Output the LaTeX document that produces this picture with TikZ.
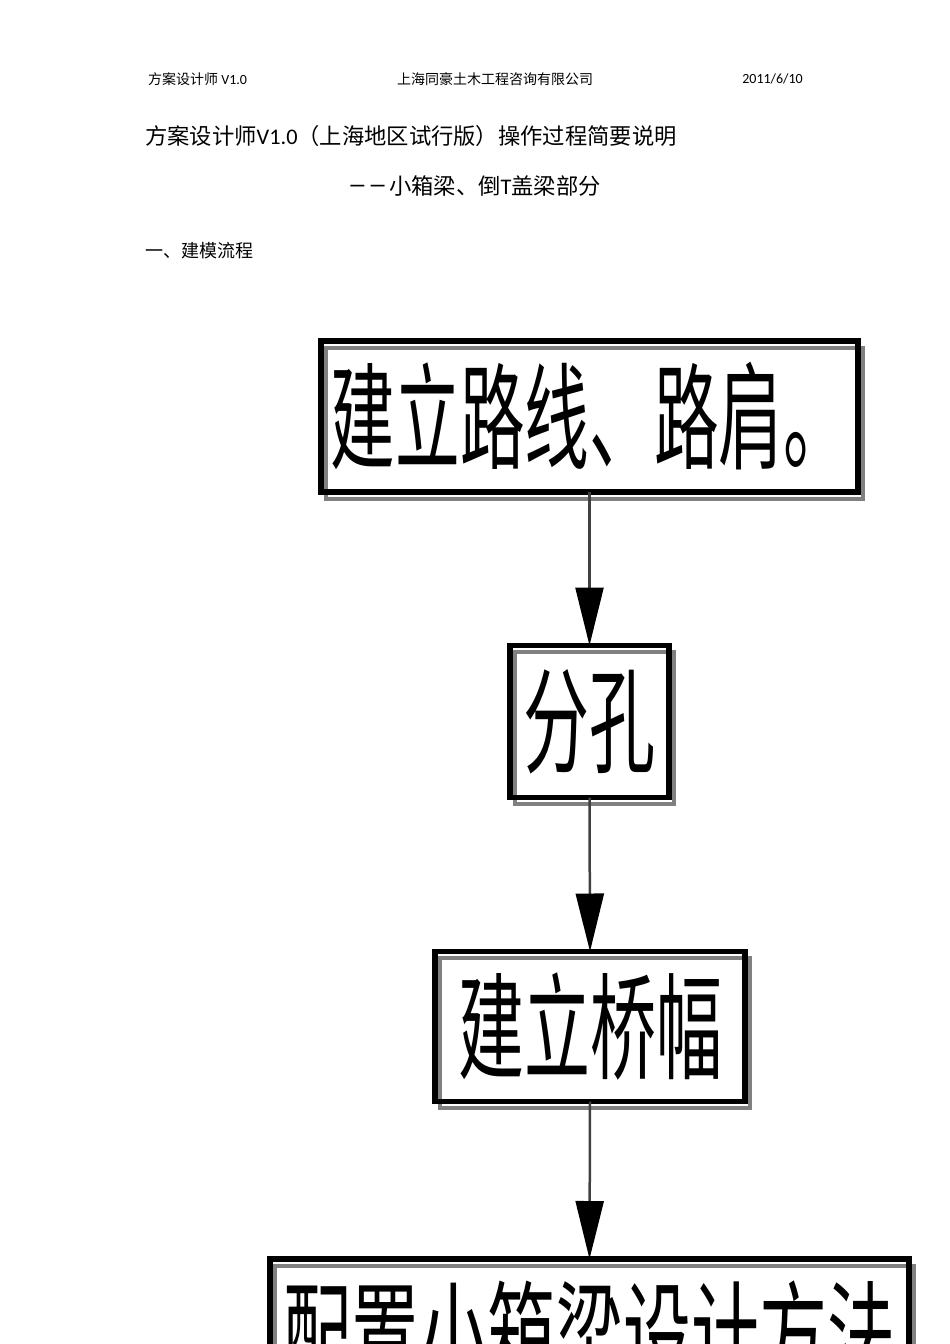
\documentclass[tikz,border=0pt]{standalone}
\usepackage{fontspec}
\usepackage{graphicx}
\setmainfont{Noto Sans CJK SC}
\newfontfamily\lat{Carlito}
\usetikzlibrary{arrows.meta,backgrounds}
\tikzset{
  box/.style={draw=black, line width=5.5pt, inner sep=0pt, outer sep=0pt,
    font=\fontsize{66}{70}\selectfont},
  shadowbox/.style={draw=black!50, line width=4pt},
  conn/.style={draw=black!75, line width=2.5pt,
    -{Triangle[length=58pt,width=28pt,fill=black,color=black]}},
  hdr/.style={inner sep=0pt, font=\fontsize{14}{16}\selectfont},
  ttl/.style={inner sep=0pt, font=\fontsize{22.3}{26}\selectfont},
  sec/.style={inner sep=0pt, font=\fontsize{18}{20}\selectfont},
}
\newcommand{\tallbox}[2][1]{\scalebox{#1}[1.75]{#2}}
\newcommand{\twodash}{\raisebox{3pt}{\lat\bfseries\fontsize{19}{19}\selectfont —\kern3pt—}}
\begin{document}
\begin{tikzpicture}[x=1pt,y=-1pt]
\useasboundingbox (0,0) rectangle (950,1344);
\clip (0,0) rectangle (950,1344);

% header
\node[hdr, anchor=west] (h1) at (148,79) {方案设计师 {\lat V1.0}};
\node[hdr, anchor=west] (h2) at (397,79) {上海同豪土木工程咨询有限公司};
\node[hdr, anchor=east] (h3) at (803,79) {\lat 2011/6/10};

% titles
\node[ttl, anchor=west] (t1) at (145,136) {方案设计师{\lat V1.0}（上海地区试行版）操作过程简要说明};
\node[ttl, anchor=east] (t2) at (601,186) {\twodash\kern3pt 小箱梁、倒{\lat T}盖梁部分};
\node[sec, anchor=west] (s1) at (145,251) {一、建模流程};

% boxes
\node[box, minimum width=537pt, minimum height=151pt] (b1) at (589.5,416.5) {\tallbox[0.98]{建立路线、路肩。}};
\node[box, minimum width=159pt, minimum height=152pt] (b2) at (589.5,721.5) {\tallbox{分孔}};
\node[box, minimum width=310pt, minimum height=150pt] (b3) at (590,1026.5) {\tallbox{建立桥幅}};
\node[box, minimum width=639pt, minimum height=151pt] (b4) at (589.5,1334.5) {\tallbox[1.03]{配置小箱梁设计方法}};

\begin{scope}[on background layer]
  \foreach \n in {b1,b2,b3,b4}{
    \draw[shadowbox] ([shift={(5,6.5)}]\n.north west) rectangle ([shift={(5,6.5)}]\n.south east);
  }
\end{scope}

% connectors
\draw[conn] (b1.south) -- (b2.north);
\draw[conn] (b2.south) -- (b3.north);
\draw[conn] (b3.south) -- (b4.north);
\end{tikzpicture}
\end{document}
